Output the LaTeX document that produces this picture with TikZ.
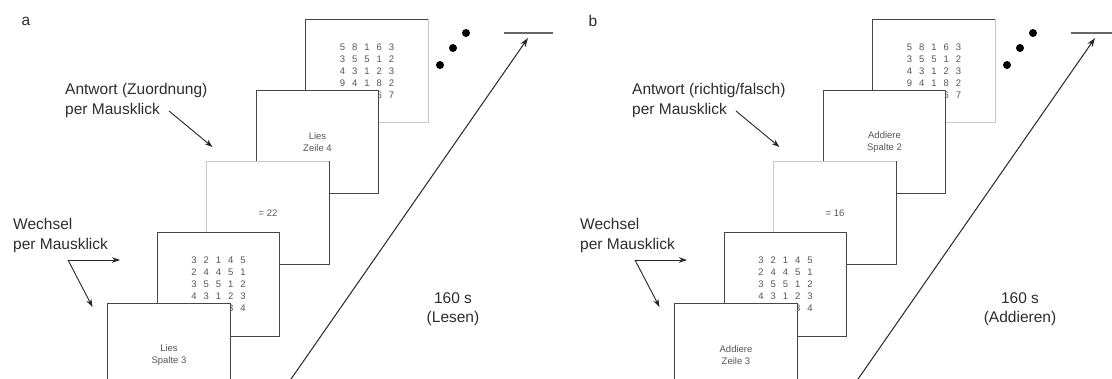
\documentclass[tikz,border=0pt]{standalone}
\usepackage{fontspec}
\setmainfont{Liberation Sans}
\usetikzlibrary{arrows.meta}
\definecolor{cardline}{RGB}{70,70,70}
\definecolor{cardfaint}{RGB}{200,200,200}
\definecolor{cardink}{RGB}{85,85,85}
\definecolor{noteink}{RGB}{45,45,45}

\begin{document}
\begin{tikzpicture}[
  x=1pt, y=-1pt,
  card/.style={draw=cardline, line width=1.4pt, fill=white, outer sep=0pt,
               inner sep=0pt, minimum width=122.5pt, minimum height=103.5pt,
               text=cardink, align=center, font=\fontsize{9.5}{12}\selectfont},
  faint/.style={draw=cardfaint, line width=1.4pt},
  digit/.style={text=cardink, inner sep=0pt, font=\fontsize{9.5}{12}\selectfont},
  note/.style={text=noteink, align=left, inner sep=0pt,
               font=\fontsize{15.5}{19.5}\selectfont},
  pointer/.style={-{Stealth[length=8pt,width=5.5pt]}, line width=0.9pt, draw=black!85},
  timeline/.style={-{Stealth[length=9pt,width=6pt]}, line width=1pt, draw=black!85}
]
\useasboundingbox (0,0) rectangle (1112,378);
\clip (0,0) rectangle (1112,378);
\fill[white] (0,0) rectangle (1112,378);

% Two panels: a (Lesen) and b (Addieren), same card stack
\foreach \p/\sh/\resp/\first/\second/\total/\dur in
  {a/0/Zuordnung/{Lies\\Spalte 3}/{Lies\\Zeile 4}/22/Lesen,
   b/567/{richtig/falsch}/{Addiere\\Zeile 3}/{Addiere\\Spalte 2}/16/Addieren}{
\begin{scope}[xshift=\sh pt]
  % Cards from back to front
  \node[card] (\p5) at (367,71) {};
  \draw[faint] (\p5.north east) -- (\p5.south east) -- (\p5.south west);
  \foreach \row [count=\r] in {{5,8,1,6,3},{3,5,5,1,2},{4,3,1,2,3},{9,4,1,8,2},{,,,6,7}}
    \foreach \d [count=\c] in \row
      \node[digit] at ([shift={({(\c-3)*12.2},{(\r-3)*12})}]\p5.center) {\d};

  \node[card] (\p4) at (317.5,142) {\second};
  \node[card] (\p3) at (268,213) {= \total};
  \draw[faint] (\p3.south west) -- (\p3.north west) -- (\p3.north east);

  \node[card] (\p2) at (218.5,284.5) {};
  \foreach \row [count=\r] in {{3,2,1,4,5},{2,4,4,5,1},{3,5,5,1,2},{4,3,1,2,3},{,,,3,4}}
    \foreach \d [count=\c] in \row
      \node[digit] at ([shift={({(\c-3)*12.2},{(\r-3)*12})}]\p2.center) {\d};

  \node[card] (\p1) at (169,355.5) {\first};

  % Continuation dots and time axis
  \fill (440,65) circle (4pt) (453,48) circle (4pt) (466,33) circle (4pt);
  \draw[black!60, line width=1.6pt] (504,33) -- (553,33);
  \coordinate (\p-t0) at (273,405);
  \coordinate (\p-t1) at (528,38);
  \draw[timeline] (\p-t0) -- (\p-t1);
  \node[note, align=center] (\p-dur) at (453,309) {160 s\\(\dur)};

  % Labels with pointers
  \node[note] (\p-lab) at (26,21) {\p};
  \node[note, anchor=west] (\p-resp) at (65,100.5) {Antwort (\resp)\\per Mausklick};
  \coordinate (\p-r0) at (169,111);
  \coordinate (\p-r1) at (212.5,147);
  \draw[pointer] (\p-r0) -- (\p-r1);
  \node[note, anchor=west] (\p-switch) at (13,235.5) {Wechsel\\per Mausklick};
  \coordinate (\p-s0) at (68,260);
  \coordinate (\p-s1) at (120,260);
  \coordinate (\p-s2) at (92.5,307);
  \draw[pointer] (\p-s0) -- (\p-s1);
  \draw[pointer] (\p-s0) -- (\p-s2);
\end{scope}
}
\end{tikzpicture}
\end{document}
